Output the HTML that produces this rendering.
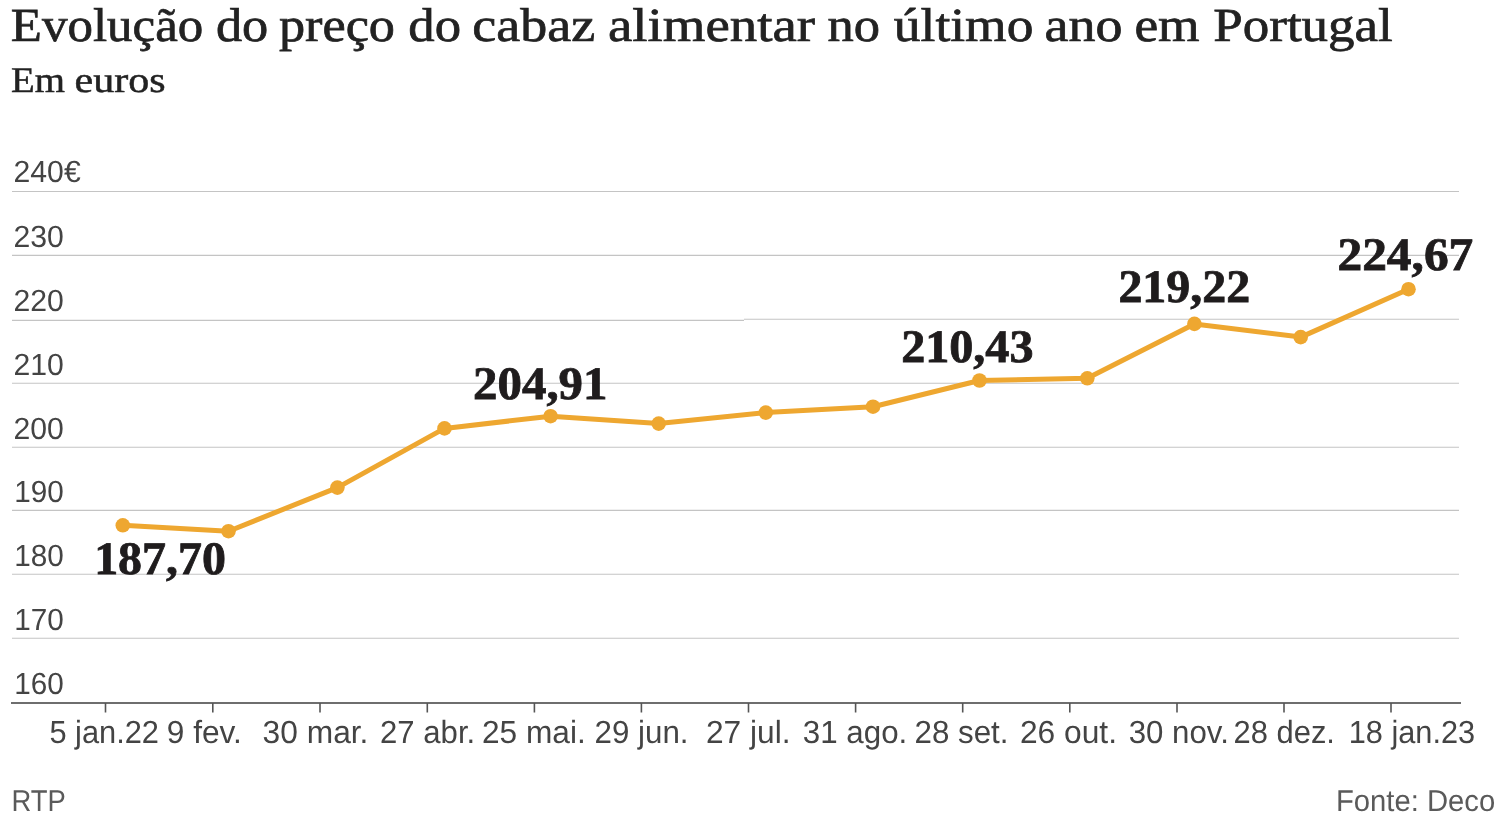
<!DOCTYPE html>
<html lang="pt">
<head>
<meta charset="utf-8">
<title>Evolução do preço do cabaz alimentar no último ano em Portugal</title>
<style>
html,body{margin:0;padding:0;background:#fff;}
body{width:1500px;height:822px;overflow:hidden;font-family:"Liberation Sans",sans-serif;}
svg{display:block;position:absolute;left:0;top:0;will-change:transform;}
text{text-rendering:geometricPrecision;}
.serif{font-family:"Liberation Serif",serif;}
.sans{font-family:"Liberation Sans",sans-serif;}
.title{font-size:47.5px;fill:#222;stroke:#222;stroke-width:0.7;}
.sub{font-size:36px;fill:#222;stroke:#222;stroke-width:0.5;}
.ylab{font-size:30.6px;fill:#444;}
.xlab{font-size:32px;fill:#444;}
.foot{font-size:30px;fill:#5a5a5a;}
.val{font-size:46.5px;font-weight:bold;fill:#1f1c1d;stroke:#1f1c1d;stroke-width:0.8;}
.grid line{stroke:#c4c4c4;stroke-width:1.1;}
.axis line{stroke:#6e6e6e;stroke-width:2;}
.ticks line{stroke:#555;stroke-width:1.6;}
.ln{fill:none;stroke:#eea730;stroke-width:5;stroke-linejoin:round;stroke-linecap:round;}
.pts circle{fill:#eea730;}
</style>
</head>
<body>
<svg width="1500" height="822" viewBox="0 0 1500 822">
  <g class="grid">
    <line x1="12" x2="1459" y1="191.5" y2="191.5"/>
    <line x1="12" x2="1459" y1="255.4" y2="255.4"/>
    <line x1="12" x2="744" y1="320.4" y2="320.4"/>
    <line x1="744" x2="1459" y1="319.3" y2="319.3"/>
    <line x1="12" x2="1459" y1="383.2" y2="383.2"/>
    <line x1="12" x2="1459" y1="447.3" y2="447.3"/>
    <line x1="12" x2="1459" y1="510.4" y2="510.4"/>
    <line x1="12" x2="1459" y1="574.3" y2="574.3"/>
    <line x1="12" x2="1459" y1="638.3" y2="638.3"/>
  </g>
  <g class="axis">
    <line x1="11" x2="1461" y1="703" y2="703"/>
  </g>
  <g class="ticks">
    <line x1="105.5" x2="105.5" y1="703" y2="712.5"/>
    <line x1="212.8" x2="212.8" y1="703" y2="712.5"/>
    <line x1="320" x2="320" y1="703" y2="712.5"/>
    <line x1="427.3" x2="427.3" y1="703" y2="712.5"/>
    <line x1="534.4" x2="534.4" y1="703" y2="712.5"/>
    <line x1="641.4" x2="641.4" y1="703" y2="712.5"/>
    <line x1="748.5" x2="748.5" y1="703" y2="712.5"/>
    <line x1="855.6" x2="855.6" y1="703" y2="712.5"/>
    <line x1="962.7" x2="962.7" y1="703" y2="712.5"/>
    <line x1="1069.8" x2="1069.8" y1="703" y2="712.5"/>
    <line x1="1177" x2="1177" y1="703" y2="712.5"/>
    <line x1="1284" x2="1284" y1="703" y2="712.5"/>
    <line x1="1391" x2="1391" y1="703" y2="712.5"/>
  </g>
  <polyline class="ln" points="122.8,525.3 228.5,531.2 337.4,487.6 444.5,428.4 550.6,416.2 658.7,423.6 765.8,412.6 873,406.7 979.5,380.5 1087.3,378.3 1194.4,323.9 1300.7,337.1 1408.5,289.2"/>
  <g class="pts">
    <circle cx="122.8" cy="525.3" r="7.3"/>
    <circle cx="228.5" cy="531.2" r="7.3"/>
    <circle cx="337.4" cy="487.6" r="7.3"/>
    <circle cx="444.5" cy="428.4" r="7.3"/>
    <circle cx="550.6" cy="416.2" r="7.3"/>
    <circle cx="658.7" cy="423.6" r="7.3"/>
    <circle cx="765.8" cy="412.6" r="7.3"/>
    <circle cx="873" cy="406.7" r="7.3"/>
    <circle cx="979.5" cy="380.5" r="7.3"/>
    <circle cx="1087.3" cy="378.3" r="7.3"/>
    <circle cx="1194.4" cy="323.9" r="7.3"/>
    <circle cx="1300.7" cy="337.1" r="7.3"/>
    <circle cx="1408.5" cy="289.2" r="7.3"/>
  </g>

  <g class="serif title">
    <text x="10.87" y="40.5" textLength="192.42" lengthAdjust="spacingAndGlyphs">Evolução</text>
    <text x="215.90" y="40.5" textLength="52.35" lengthAdjust="spacingAndGlyphs">do</text>
    <text x="278.94" y="40.5" textLength="116.06" lengthAdjust="spacingAndGlyphs">preço</text>
    <text x="408.34" y="40.5" textLength="52.75" lengthAdjust="spacingAndGlyphs">do</text>
    <text x="472.34" y="40.5" textLength="122.79" lengthAdjust="spacingAndGlyphs">cabaz</text>
    <text x="607.93" y="40.5" textLength="207.09" lengthAdjust="spacingAndGlyphs">alimentar</text>
    <text x="827.44" y="40.5" textLength="52.56" lengthAdjust="spacingAndGlyphs">no</text>
    <text x="893.85" y="40.5" textLength="139.53" lengthAdjust="spacingAndGlyphs">último</text>
    <text x="1044.51" y="40.5" textLength="77.96" lengthAdjust="spacingAndGlyphs">ano</text>
    <text x="1134.42" y="40.5" textLength="65.29" lengthAdjust="spacingAndGlyphs">em</text>
    <text x="1213.33" y="40.5" textLength="179.49" lengthAdjust="spacingAndGlyphs">Portugal</text>
  </g>
  <g class="serif sub">
    <text x="11.13" y="92" textLength="53.93" lengthAdjust="spacingAndGlyphs">Em</text>
    <text x="74.50" y="92" textLength="91.12" lengthAdjust="spacingAndGlyphs">euros</text>
  </g>
  <g class="sans ylab">
    <text x="13.50" y="182.4" textLength="67.19" lengthAdjust="spacingAndGlyphs">240€</text>
    <text x="13.49" y="246.8" textLength="50.42" lengthAdjust="spacingAndGlyphs">230</text>
    <text x="13.49" y="310.7" textLength="50.42" lengthAdjust="spacingAndGlyphs">220</text>
    <text x="13.49" y="374.6" textLength="50.42" lengthAdjust="spacingAndGlyphs">210</text>
    <text x="13.49" y="438.7" textLength="50.42" lengthAdjust="spacingAndGlyphs">200</text>
    <text x="14.26" y="501.8" textLength="49.58" lengthAdjust="spacingAndGlyphs">190</text>
    <text x="14.26" y="565.7" textLength="49.58" lengthAdjust="spacingAndGlyphs">180</text>
    <text x="14.26" y="629.7" textLength="49.58" lengthAdjust="spacingAndGlyphs">170</text>
    <text x="14.26" y="694.3" textLength="49.58" lengthAdjust="spacingAndGlyphs">160</text>
  </g>
  <g class="sans xlab">
    <text x="49.39" y="742.5" textLength="109.61" lengthAdjust="spacingAndGlyphs">5 jan.22</text>
    <text x="166.83" y="742.5" textLength="75.06" lengthAdjust="spacingAndGlyphs">9 fev.</text>
    <text x="262.61" y="742.5" textLength="105.83" lengthAdjust="spacingAndGlyphs">30 mar.</text>
    <text x="380.05" y="742.5" textLength="95.15" lengthAdjust="spacingAndGlyphs">27 abr.</text>
    <text x="481.94" y="742.5" textLength="103.85" lengthAdjust="spacingAndGlyphs">25 mai.</text>
    <text x="594.51" y="742.5" textLength="94.03" lengthAdjust="spacingAndGlyphs">29 jun.</text>
    <text x="705.95" y="742.5" textLength="84.68" lengthAdjust="spacingAndGlyphs">27 jul.</text>
    <text x="802.84" y="742.5" textLength="104.49" lengthAdjust="spacingAndGlyphs">31 ago.</text>
    <text x="914.50" y="742.5" textLength="94.03" lengthAdjust="spacingAndGlyphs">28 set.</text>
    <text x="1019.94" y="742.5" textLength="97.07" lengthAdjust="spacingAndGlyphs">26 out.</text>
    <text x="1128.66" y="742.5" textLength="100.18" lengthAdjust="spacingAndGlyphs">30 nov.</text>
    <text x="1233.58" y="742.5" textLength="101.35" lengthAdjust="spacingAndGlyphs">28 dez.</text>
    <text x="1348.70" y="742.5" textLength="126.46" lengthAdjust="spacingAndGlyphs">18 jan.23</text>
  </g>
  <g class="serif val">
    <text x="94.18" y="574.0" textLength="131.70" lengthAdjust="spacingAndGlyphs">187,70</text>
    <text x="473.08" y="399.3" textLength="134.42" lengthAdjust="spacingAndGlyphs">204,91</text>
    <text x="901.15" y="361.7" textLength="132.36" lengthAdjust="spacingAndGlyphs">210,43</text>
    <text x="1118.40" y="301.7" textLength="131.69" lengthAdjust="spacingAndGlyphs">219,22</text>
    <text x="1337.48" y="270.2" textLength="135.83" lengthAdjust="spacingAndGlyphs">224,67</text>
  </g>
  <g class="sans foot">
    <text x="11.44" y="811" textLength="54.36" lengthAdjust="spacingAndGlyphs">RTP</text>
    <text x="1335.95" y="810.7" textLength="159.29" lengthAdjust="spacingAndGlyphs">Fonte: Deco</text>
  </g>
</svg>
</body>
</html>
